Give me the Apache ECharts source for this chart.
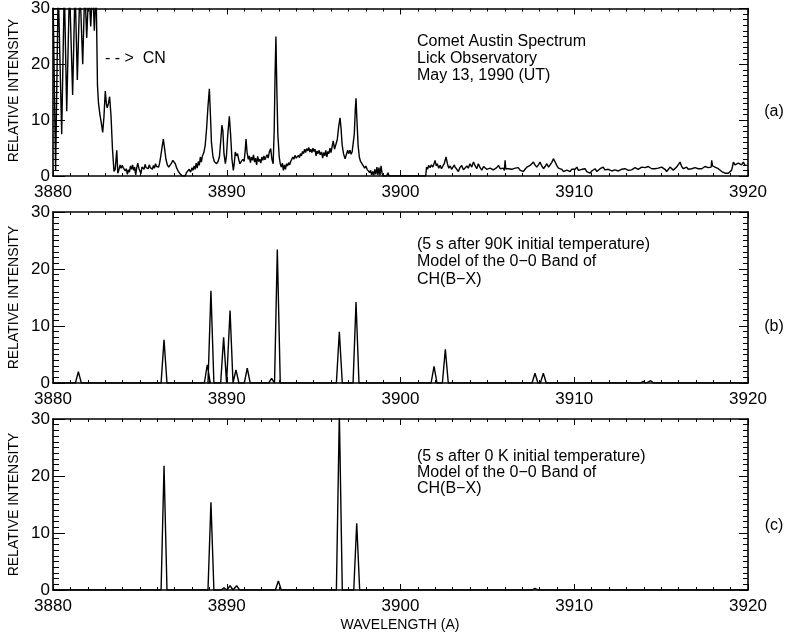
<!DOCTYPE html>
<html><head><meta charset="utf-8">
<script src="https://cdn.jsdelivr.net/npm/echarts@6.0.0/dist/echarts.min.js"></script>
<style>html,body{margin:0;padding:0;background:#fff}#c{width:787px;height:636px}</style>
</head><body><div id="c"></div>
<script>
// ---- DATA ----
const xRange = [3880, 3920];
const yRange = [0, 30];
const xTickStep = 10;
const yTickStep = 10;

// Panel (a): observed comet spectrum  [wavelength, relative intensity]
const specA = [
[3880.00,33],[3880.15,1],[3880.30,34],[3880.50,7.5],[3880.65,34],[3880.79,11.6],[3880.95,34],[3881.13,14.5],[3881.27,34],[3881.40,17.2],[3881.55,34],[3881.71,20],[3881.83,34],[3881.94,24.7],[3882.06,34],[3882.17,26.8],[3882.28,34],[3882.38,26],[3882.48,34],[3882.52,25],[3882.56,16.2],[3882.62,13],[3882.70,11],[3882.78,9.5],[3882.86,7.8],[3882.93,10.5],[3883.01,15.2],[3883.07,13],[3883.12,12.2],[3883.19,13],[3883.26,14.2],[3883.34,10.7],[3883.42,5],[3883.51,0.8],[3883.58,1.2],[3883.67,4.6],[3883.73,0.5],
[3883.80,1.2],[3883.86,2.0],[3883.92,1.4],[3883.98,1.9],[3884.04,1.5],[3884.10,1.7],[3884.16,0.9],[3884.22,1.3],[3884.28,0.3],[3884.34,1.1],[3884.40,0.7],[3884.46,1.8],[3884.52,1.2],[3884.58,2.0],[3884.64,1.0],[3884.70,1.6],[3884.76,0.2],[3884.82,1.5],[3884.88,2.3],[3884.94,1.4],[3885.00,1.7],[3885.06,0.4],[3885.12,1.6],[3885.18,1.9],[3885.24,1.2],[3885.30,2.1],[3885.36,1.5],[3885.42,1.8],[3885.48,1.3],[3885.54,2.0],[3885.60,1.5],[3885.66,1.6],[3885.72,1.2],[3885.78,1.9],[3885.84,1.4],[3885.90,2.2],[3885.96,1.7],[3886.02,2.0],[3886.08,1.6],[3886.14,2.4],[3886.20,3.5],[3886.28,5.2],[3886.35,6.6],[3886.42,5.0],[3886.50,3.0],[3886.58,2.0],[3886.66,1.6],[3886.74,1.9],[3886.82,2.3],[3886.90,2.8],[3886.96,2.9],[3887.04,2.2],[3887.12,1.4],[3887.20,0.9],[3887.28,0.5],[3887.36,0.2],[3887.44,0.0],[3887.52,0.1],[3887.60,0.0],[3887.68,0.6],[3887.76,0.3],[3887.84,1.2],[3887.92,0.7],[3888.00,1.5],[3888.06,1.0],[3888.12,1.8],[3888.18,1.2],[3888.24,2.3],[3888.30,1.4],[3888.36,2.6],[3888.42,1.9],[3888.48,3.4],[3888.54,2.5],[3888.60,3.6],[3888.68,4.2],[3888.76,5.5],[3888.84,8.5],[3888.92,12.5],[3889.00,15.6],[3889.06,11],[3889.12,6.0],[3889.20,3.6],[3889.28,2.6],[3889.36,2.8],[3889.42,2.2],[3889.50,2.6],[3889.58,3.5],[3889.66,6.5],[3889.72,9.1],[3889.78,8.0],[3889.84,4.0],[3889.92,2.2],[3889.98,3.5],[3890.06,7.5],[3890.15,10.7],[3890.22,7.5],[3890.30,3.0],[3890.38,1.0],[3890.44,2.5],[3890.49,4.3],[3890.56,3.6],[3890.62,4.0],[3890.70,2.8],[3890.76,2.2],[3890.84,2.0],[3890.92,3.0],[3891.00,2.6],[3891.06,4.5],[3891.11,6.6],[3891.17,4.2],[3891.24,3.0],[3891.30,3.6],[3891.36,2.4],[3891.42,3.4],[3891.48,2.8],[3891.54,3.8],[3891.60,2.5],[3891.66,3.2],[3891.72,2.0],[3891.78,3.5],[3891.84,2.6],[3891.90,3.0],[3891.96,2.3],[3892.02,3.4],[3892.08,2.8],[3892.14,3.6],[3892.20,2.9],[3892.26,3.4],[3892.32,3.8],[3892.38,3.2],[3892.46,4.4],[3892.53,4.9],[3892.60,3.0],[3892.67,2.2],[3892.73,8],[3892.78,18],[3892.83,25.0],[3892.88,16],[3892.94,7.5],[3893.02,3.4],[3893.08,2.2],[3893.14,1.6],[3893.20,2.3],[3893.26,1.0],[3893.32,2.0],[3893.38,1.2],[3893.44,2.2],[3893.50,1.8],[3893.56,2.4],[3893.62,2.0],[3893.68,2.6],[3893.74,2.8],[3893.80,3.4],[3893.86,3.0],[3893.93,3.7],[3894.00,3.2],[3894.06,3.4],[3894.12,3.7],[3894.18,3.3],[3894.24,4.0],[3894.30,3.6],[3894.36,4.4],[3894.42,4.0],[3894.48,4.8],[3894.54,4.2],[3894.60,4.9],[3894.66,4.5],[3894.72,5.1],[3894.78,4.3],[3894.84,4.8],[3894.90,4.2],[3894.96,5.0],[3895.02,4.4],[3895.08,4.8],[3895.14,3.6],[3895.20,4.5],[3895.26,4.0],[3895.32,4.6],[3895.38,3.8],[3895.46,4.3],[3895.52,3.2],[3895.58,4.2],[3895.64,3.6],[3895.70,4.6],[3895.76,3.4],[3895.82,4.4],[3895.88,4.0],[3895.94,5.0],[3896.00,4.2],[3896.06,5.2],[3896.13,6.3],[3896.20,4.8],[3896.28,5.0],[3896.36,6.5],[3896.44,8.8],[3896.52,10.4],[3896.58,8.5],[3896.64,5.6],[3896.72,4.0],[3896.81,3.1],[3896.88,3.8],[3896.96,4.6],[3897.02,4.0],[3897.09,4.6],[3897.16,3.9],[3897.22,4.4],[3897.28,4.3],[3897.34,7.5],[3897.40,12],[3897.44,13.9],[3897.50,9.5],[3897.56,5.5],[3897.63,3.4],[3897.70,2.6],[3897.78,2.2],[3897.86,1.9],[3897.94,1.4],[3898.00,1.8],[3898.08,1.2],[3898.15,1.5],[3898.22,0.6],[3898.28,1.0],[3898.34,0.2],[3898.40,0.8],[3898.46,0.1],[3898.52,1.2],[3898.58,0.3],[3898.64,1.6],[3898.70,0.2],[3898.76,1.5],[3898.82,0.1],[3898.88,1.8],[3898.94,0.5],[3899.00,0],[3899.20,0],[3899.28,0.6],[3899.34,0],[3900.60,0],[3900.66,0.3],[3900.72,0],[3901.45,0],
[3901.50,1.6],[3901.56,1.2],[3901.62,1.9],[3901.70,1.5],[3901.78,2.0],[3901.86,1.6],[3901.92,2.1],[3901.99,2.8],[3902.06,1.8],[3902.12,2.2],[3902.20,1.4],[3902.28,1.9],[3902.36,1.3],[3902.44,1.8],[3902.52,2.2],[3902.62,3.4],[3902.70,2.2],[3902.78,1.4],[3902.86,1.8],[3902.94,1.2],[3903.02,1.6],[3903.10,2.0],
[3903.14,1.6],[3903.24,1.2],[3903.33,0.8],[3903.42,1.5],[3903.52,1.9],[3903.62,1.1],[3903.72,1.3],[3903.82,1.8],[3903.90,1.4],[3904.00,2.2],[3904.10,1.6],[3904.20,2.5],[3904.30,1.8],[3904.39,1.3],[3904.48,2.2],[3904.58,1.5],[3904.68,1.05],[3904.78,1.7],[3904.87,1.6],[3904.96,1.2],[3905.06,1.05],[3905.16,1.4],[3905.25,1.6],[3905.34,1.1],[3905.44,1.3],[3905.54,1.5],[3905.64,1.9],[3905.74,1.3],[3905.83,1.05],[3905.92,1.4],[3905.98,1.0],[3906.02,2.8],[3906.06,1.3],[3906.12,1.05],[3906.22,1.3],[3906.31,1.6],[3906.40,1.2],[3906.50,1.05],[3906.60,1.4],[3906.69,1.3],[3906.78,1.5],[3906.88,1.05],[3906.98,1.2],[3907.07,0.8],[3907.17,1.2],[3907.27,1.6],[3907.36,1.3],[3907.46,1.9],[3907.56,1.6],[3907.65,2.5],[3907.74,2.0],[3907.84,1.6],[3907.94,2.0],[3908.03,2.5],[3908.13,1.8],[3908.23,1.3],[3908.32,1.7],[3908.42,2.2],[3908.52,1.6],[3908.61,1.9],[3908.70,2.4],[3908.80,3.1],[3908.90,2.5],[3908.99,1.9],[3909.09,1.4],[3909.19,1.05],[3909.28,1.2],[3909.38,0.8],[3909.48,1.1],[3909.57,1.05],[3909.66,0.7],[3909.76,0.8],[3909.86,1.2],[3909.95,1.05],[3910.05,1.2],[3910.15,1.6],[3910.24,1.0],[3910.34,0.8],[3910.44,1.2],[3910.53,1.05],[3910.62,1.3],[3910.72,0.8],[3910.82,1.0],[3910.91,0.5],[3911.01,0.9],[3911.11,1.05],[3911.20,1.3],[3911.30,0.8],[3911.40,1.1],[3911.49,1.3],[3911.58,1.2],[3911.67,1.6],[3911.76,1.1],[3911.86,0.8],[3911.96,1.2],[3912.06,1.3],[3912.16,0.9],[3912.25,0.8],[3912.34,1.1],[3912.44,1.05],[3912.54,0.9],[3912.63,0.8],[3912.72,1.2],[3912.82,1.05],[3912.92,1.3],[3913.02,1.2],[3913.12,1.0],[3913.21,0.8],[3913.30,1.1],[3913.40,1.3],[3913.50,1.5],[3913.59,1.6],[3913.68,1.2],[3913.78,1.05],[3913.88,1.6],[3913.98,1.9],[3914.08,1.5],[3914.17,1.3],[3914.26,1.7],[3914.36,1.9],[3914.46,1.3],[3914.55,1.05],[3914.64,1.3],[3914.74,1.6],[3914.84,1.4],[3914.93,1.3],[3915.03,1.6],[3915.13,1.9],[3915.22,1.2],[3915.32,0.8],[3915.42,1.2],[3915.51,1.6],[3915.60,1.3],[3915.70,1.05],[3915.80,1.4],[3915.89,1.6],[3916.00,1.8],[3916.09,2.5],[3916.18,1.7],[3916.28,1.3],[3916.38,1.5],[3916.47,1.6],[3916.56,1.2],[3916.66,1.05],[3916.76,1.3],[3916.85,1.3],[3916.95,1.5],[3917.05,1.6],[3917.14,1.3],[3917.24,1.05],[3917.34,1.3],[3917.43,1.6],[3917.52,1.7],[3917.62,1.9],[3917.72,1.5],[3917.81,1.3],[3917.88,1.6],[3917.91,2.8],[3917.96,1.8],[3918.04,1.6],[3918.10,1.6],[3918.20,1.4],[3918.29,1.3],[3918.39,1.0],[3918.49,0.8],[3918.58,0.6],[3918.68,0.5],[3918.78,0.5],[3918.87,0.5],[3918.96,0.8],[3919.06,1.05],[3919.12,1.9],[3919.16,2.5],[3919.25,2.0],[3919.35,1.9],[3919.44,2.3],[3919.54,2.3],[3919.63,2.0],[3919.73,2.5],[3919.83,1.9],[3919.93,2.2],[3920.00,1.9]
];

// Panel (b): model, 90 K initial temperature — line centres and peak intensities
const peaksBWave = [3881.46, 3886.39, 3888.88, 3889.09, 3889.82, 3890.19, 3890.53, 3891.18, 3892.58, 3892.91, 3896.48, 3897.44, 3901.93, 3902.58, 3907.74, 3908.22, 3913.97, 3914.40];
const peaksBInt  = [2.0, 7.6, 3.2, 16.2, 8.0, 12.7, 2.3, 2.6, 0.8, 23.4, 9.0, 14.2, 2.9, 5.9, 1.7, 1.7, 0.3, 0.4];

// Panel (c): model, 0 K initial temperature
const peaksCWave = [3886.39, 3889.09, 3889.84, 3890.19, 3890.57, 3892.97, 3896.48, 3897.48, 3907.74];
const peaksCInt  = [21.8, 15.4, 0.4, 0.75, 0.75, 1.6, 31, 11.7, 0.3];

const panelLabels = ['(a)', '(b)', '(c)'];
const notesA = ['Comet Austin Spectrum', 'Lick Observatory', 'May 13, 1990 (UT)'];
const notesB = ['(5 s after 90K initial temperature)', 'Model of the 0\u22120 Band of', 'CH(B\u2212X)'];
const notesC = ['(5 s after 0 K initial temperature)', 'Model of the 0\u22120 Band of', 'CH(B\u2212X)'];
const cnLabel = '- - >  CN';
const yTitle = 'RELATIVE INTENSITY';
const xTitle = 'WAVELENGTH (A)';

// ---- BUILD ----
const HW = 0.17; // half base width of model line profile
function peakLine(waves, ints) {
  const pts = [[xRange[0], 0]];
  waves.forEach((w, i) => { pts.push([w - HW, 0], [w, ints[i]], [w + HW, 0]); });
  pts.push([xRange[1], 0]);
  return pts;
}

const FONT = 'Liberation Sans, Arial, Helvetica, sans-serif';
const gridTops = [5, 212, 419];
const GH = 171, GL = 53, GW = 695;
const plain = v => String(v);

const grids = [], xAxes = [], yAxes = [], series = [];
const seriesData = [specA, peakLine(peaksBWave, peaksBInt), peakLine(peaksCWave, peaksCInt)];
gridTops.forEach((t, i) => {
  grids.push({ left: GL, top: t, width: GW, height: GH, containLabel: false });
  const axLine = { show: true, onZero: false, lineStyle: { color: '#000', width: 1.6 } };
  const xBase = {
    type: 'value', gridIndex: i, min: xRange[0], max: xRange[1], interval: xTickStep,
    axisLine: axLine, splitLine: { show: false },
    axisTick: { show: true, inside: true, length: 6, lineStyle: { color: '#000', width: 1 } },
    minorTick: { show: true, splitNumber: 10, length: 3, lineStyle: { color: '#000', width: 1 } }
  };
  xAxes.push(Object.assign({}, xBase, { position: 'bottom',
    axisLabel: { show: true, color: '#000', fontSize: 17, fontFamily: FONT, margin: 8, formatter: plain } }));
  xAxes.push(Object.assign({}, xBase, { position: 'top', axisLabel: { show: false } }));
  const yBase = {
    type: 'value', gridIndex: i, min: yRange[0], max: yRange[1], interval: yTickStep,
    axisLine: axLine, splitLine: { show: false }
  };
  yAxes.push(Object.assign({}, yBase, { position: 'left',
    axisTick: { show: true, inside: true, length: 12, lineStyle: { color: '#000', width: 1 } },
    minorTick: { show: true, splitNumber: 10, length: 6, lineStyle: { color: '#000', width: 1 } },
    axisLabel: { show: true, color: '#000', fontSize: 17, fontFamily: FONT, margin: 3, formatter: plain } }));
  yAxes.push(Object.assign({}, yBase, { position: 'right',
    axisTick: { show: true, inside: true, length: 9, lineStyle: { color: '#000', width: 1 } },
    minorTick: { show: true, splitNumber: 10, length: 5, lineStyle: { color: '#000', width: 1 } },
    axisLabel: { show: false } }));
  series.push({
    type: 'line', xAxisIndex: 2 * i, yAxisIndex: 2 * i, data: seriesData[i],
    showSymbol: false, symbol: 'none', clip: true, silent: true,
    lineStyle: { color: '#000', width: 1.4 }
  });
});

const graphic = [];
function txt(x, y, text, size) {
  graphic.push({ type: 'text', x: x, y: y, silent: true,
    style: { text: text, fill: '#000', font: size + 'px ' + FONT, textAlign: 'left', textVerticalAlign: 'middle' } });
}
// y titles
gridTops.forEach((t) => {
  graphic.push({ type: 'text', x: 14, y: t + GH / 2, rotation: Math.PI / 2, silent: true,
    style: { text: yTitle, fill: '#000', font: '14px ' + FONT, textAlign: 'center', textVerticalAlign: 'middle' } });
});
// panel labels
const panelLabelY = [112, 327, 526];
panelLabels.forEach((s, i) => {
  graphic.push({ type: 'text', x: 774, y: panelLabelY[i], silent: true,
    style: { text: s, fill: '#000', font: '16px ' + FONT, textAlign: 'center', textVerticalAlign: 'middle' } });
});
// notes
const noteY = [[42, 59, 76], [245, 262, 280], [457, 473, 489]];
[notesA, notesB, notesC].forEach((arr, i) => arr.forEach((s, j) => txt(417, noteY[i][j], s, 16)));
txt(105, 59, cnLabel, 16);
// x title
graphic.push({ type: 'text', x: 400, y: 625, silent: true,
  style: { text: xTitle, fill: '#000', font: '14px ' + FONT, textAlign: 'center', textVerticalAlign: 'middle' } });

const chart = echarts.init(document.getElementById('c'), null, { renderer: 'canvas' });
chart.setOption({
  animation: false, backgroundColor: '#fff',
  grid: grids, xAxis: xAxes, yAxis: yAxes, series: series, graphic: graphic
});
</script></body></html>
